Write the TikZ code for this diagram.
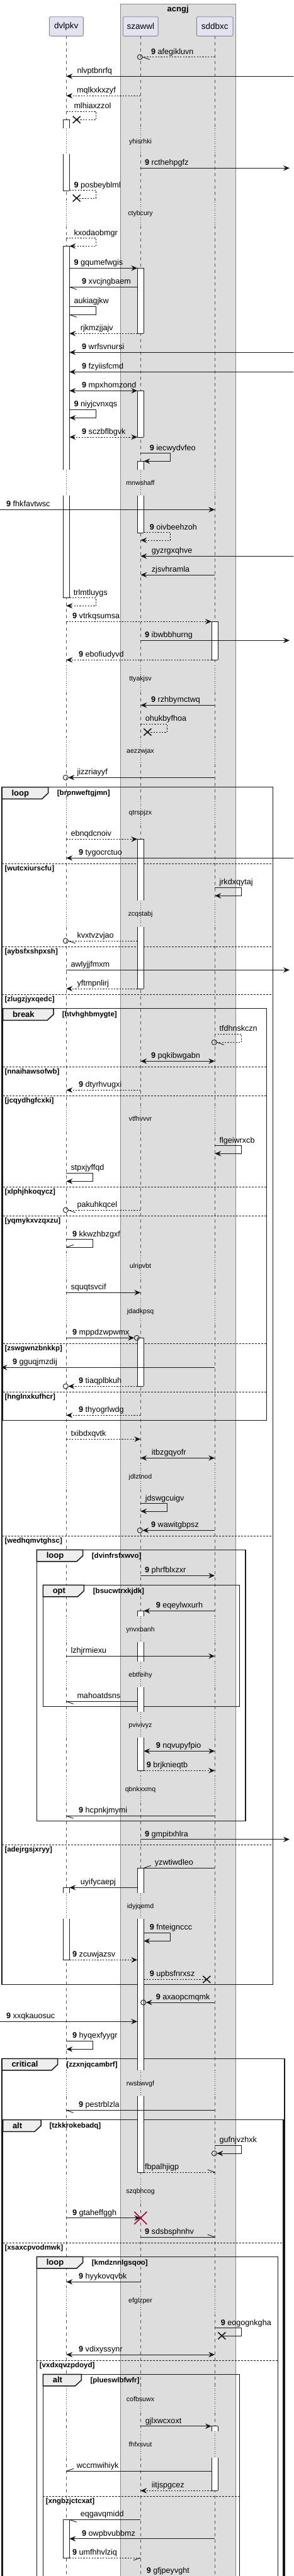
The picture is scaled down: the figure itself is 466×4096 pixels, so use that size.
\documentclass[tikz,border=0pt]{standalone}
\usepackage{fontspec}
\setmainfont{Liberation Sans}
\usetikzlibrary{arrows.meta}
\definecolor{partfill}{HTML}{E2E2F0}
\definecolor{boxgrey}{HTML}{DDDDDD}
\definecolor{bordergrey}{HTML}{888888}
\definecolor{lifegrey}{HTML}{555555}
\definecolor{delayred}{HTML}{A80036}
\definecolor{ink}{HTML}{181818}
\definecolor{tabfill}{HTML}{EEEEEE}
\newcounter{nn}
\newcommand\mlab[3]{\stepcounter{nn}\node[lab] (t\thenn) at (#1,#2) {#3};}
\newcommand\numlab[3]{\stepcounter{nn}\node[lab] (t\thenn) at (#1,#2) {\textbf{9}\ #3};}
\newcommand\dlyL[2]{\stepcounter{nn}\node[dlab] (t\thenn) at (223,#2+3.6) {#1};}
\newcommand\msgL[4][]{\draw[msg,#1] (#2 |- 0,#4) -- (#3 |- 0,#4);}
\newcommand\selfL[6][]{\draw[msg,#1] (#2 |- 0,#4) -- (#3,#4) -- (#3,#5) -- (#6 |- 0,#5);}
\newcommand\barbL[3]{\draw[msg] (#1) -- ++(#2,#3);}
\newcommand\ringL[2]{\draw[msg] (#1,#2) circle[radius=4pt];}
\newcommand\xmkL[2]{\draw[xm] (#1-6,#2-5.5) -- (#1+6,#2+5.5) (#1-6,#2+5.5) -- (#1+6,#2-5.5);}
\newcommand\redxL[2]{\draw[draw=delayred,line width=1.6pt] (#1-10,#2-10) -- (#1+10,#2+10) (#1-10,#2+10) -- (#1+10,#2-10);}
\newcommand\actL[5]{%
  \fill[white] (#1,#2) rectangle (#1+10,#3);
  \draw[actl] (#1,#2) -- (#1,#3) (#1+10,#2) -- (#1+10,#3);
  \ifnum#4=1 \draw[actl] (#1,#2) -- (#1+10,#2);\fi
  \ifnum#5=1 \draw[actl] (#1,#3) -- (#1+10,#3);\fi}
\newcommand\grpL[8]{%
  \draw[frm] (#1,#2) rectangle (#3,#4);
  \draw[tab] (#1,#2) -- (#5,#2) -- (#5,#2+9.3) -- (#5-10,#2+18.6) -- (#1,#2+18.6) -- cycle;
  \stepcounter{nn}\node[ttl] (t\thenn) at (#1+15.3,#2+13.3) {#6};
  \stepcounter{nn}\node[cnd] (t\thenn) at (#8,#2+12.8) {#7};}
\newcommand\sepL[5]{\draw[sep] (#1,#3) -- (#2,#3);
  \stepcounter{nn}\node[cnd] (t\thenn) at (#5,#3+11.5) {#4};}
\begin{document}
\begin{tikzpicture}[x=1pt,y=-1pt,
  lab/.style={font=\fontsize{12.6}{14}\selectfont, inner sep=0pt, anchor=base west},
  dlab/.style={font=\fontsize{10.6}{12}\selectfont, inner sep=0pt, anchor=base},
  cnd/.style={font=\bfseries\fontsize{11.5}{13}\selectfont, inner sep=0pt, anchor=base west},
  ttl/.style={font=\bfseries\fontsize{13}{15}\selectfont, inner sep=0pt, anchor=base west},
  part/.style={draw=bordergrey, fill=partfill, rounded corners=2pt, line width=0.9pt, font=\fontsize{13.5}{15}\selectfont, inner sep=0pt, minimum height=30.6pt},
  msg/.style={draw=ink, line width=0.9pt},
  ret/.style={dash pattern=on 2.2pt off 2.2pt},
  ar/.style={-{Stealth[length=10pt,width=8.5pt,inset=3.5pt]}},
  bar/.style={{Stealth[length=10pt,width=8.5pt,inset=3.5pt]}-{Stealth[length=10pt,width=8.5pt,inset=3.5pt]}},
  life/.style={draw=lifegrey, line width=0.8pt, dash pattern=on 5pt off 5pt},
  dotl/.style={draw=delayred, line width=0.8pt, dash pattern=on 1pt off 2.5pt},
  actl/.style={draw=ink, line width=0.9pt},
  frm/.style={draw=ink, line width=1.5pt},
  tab/.style={draw=ink, line width=1.5pt, fill=tabfill},
  sep/.style={draw=ink, line width=0.9pt, dash pattern=on 3pt off 2pt},
  xm/.style={draw=ink, line width=1.6pt},
]
\useasboundingbox (0,0) rectangle (466,4096);
\fill[white] (0,0) rectangle (466,4096);
% group box
\filldraw[fill=boxgrey, draw=bordergrey, line width=0.9pt] (191.3,6.3) rectangle (374.3,4120);
\node[ttl, anchor=base] (grpttl) at (282.7,18.6) {acngj};
% participants
\node[part, minimum width=54pt] (dvlpkv) at (105.3,42) {dvlpkv};
\node[part, minimum width=55.7pt] (szawwl) at (223.3,42) {szawwl};
\node[part, minimum width=57.7pt] (sddbxc) at (341.2,42) {sddbxc};
\coordinate (A) at (dvlpkv.south);
\coordinate (B) at (szawwl.south);
\coordinate (C) at (sddbxc.south);
\coordinate (Ar) at (110.3,0); \coordinate (Ac) at (108.3,0); \coordinate (Ax) at (121.7,0);
\coordinate (Bl) at (218.3,0); \coordinate (Br) at (228.3,0); \coordinate (Bcl) at (213.3,0);
\coordinate (Bcr) at (226.3,0); \coordinate (Bcrr) at (231.7,0); \coordinate (Bx) at (234.3,0);
\coordinate (Cl) at (336,0); \coordinate (Ccr) at (344.3,0); \coordinate (Cx) at (328.3,0); \coordinate (Cxx) at (352.3,0);
\coordinate (L) at (0,0); \coordinate (Lt) at (1.5,0); \coordinate (R) at (460,0); \coordinate (Re) at (466,0);
% lifelines
\foreach \ya/\yb in {57.3/203.8, 245.4/317.8, 359.4/746.8, 788.4/1058.1, 1099.7/1173.1, 1214.7/1270.8, 1312.4/1432.1, 1473.7/1757.8, 1799.4/1992.1, 2033.7/2064.1, 2105.7/2326.8, 2368.4/2569.8, 2611.4/2641.8, 2683.4/2721.5, 2763.1/2824.1, 2865.7/3009.8, 3051.4/3291.8, 3333.4/3462.8, 3504.4/3637.1, 3678.7/3794.1, 3835.7/3866.1, 3907.7/4110}{
  \foreach \X in {A,B,C}{\draw[life] (\X |- 0,\ya) -- (\X |- 0,\yb);}}
\foreach \ya/\yb in {203.8/245.4, 317.8/359.4, 746.8/788.4, 1058.1/1099.7, 1173.1/1214.7, 1270.8/1312.4, 1432.1/1473.7, 1757.8/1799.4, 1992.1/2033.7, 2064.1/2105.7, 2326.8/2368.4, 2569.8/2611.4, 2641.8/2683.4, 2721.5/2763.1, 2824.1/2865.7, 3009.8/3051.4, 3291.8/3333.4, 3462.8/3504.4, 3637.1/3678.7, 3794.1/3835.7, 3866.1/3907.7}{
  \foreach \X in {A,B,C}{\draw[dotl] (\X |- 0,\ya) -- (\X |- 0,\yb);}}
% delays
\dlyL{yhisrhki}{225} \dlyL{ctybcury}{339} \dlyL{mnwshaff}{768} \dlyL{ttyakjsv}{1079.3}
\dlyL{aezzwjax}{1194.3} \dlyL{qtrspjzx}{1292} \dlyL{zcqstabj}{1453.3} \dlyL{vtfhvvvr}{1779}
\dlyL{ulripvbt}{2013.3} \dlyL{jdadkpsq}{2085.3} \dlyL{jdlztnod}{2348} \dlyL{ynvxbanh}{2591}
\dlyL{ebtfeihy}{2663} \dlyL{pvivivyz}{2742.7} \dlyL{qbnkxxmq}{2845.3} \dlyL{idyjqemd}{3031}
\dlyL{rwsbwvgf}{3313} \dlyL{szqbhcog}{3484} \dlyL{efglzper}{3658.3} \dlyL{cofbsuwx}{3815.3}
\dlyL{fhfxsvut}{3887.3}
% frames
\grpL{3}{1251.7}{433.3}{3155.3}{76.7}{loop}{[brpnweftgjmn]}{90.7}
\sepL{3}{433.3}{1373}{[wutcxiurscfu]}{7.3}
\sepL{3}{433.3}{1505}{[aybsfxshpxsh]}{7.3}
\sepL{3}{433.3}{1581.3}{[zlugzjyxqedc]}{7.3}
\sepL{3}{433.3}{2442.3}{[wedhqmvtghsc]}{7.3}
\sepL{3}{433.3}{2933.3}{[adejrgsjxryy]}{7.3}
\grpL{4.5}{1603.7}{423.3}{2258.7}{85}{break}{[htvhghbmygte]}{98.7}
\sepL{4.5}{423.3}{1696.3}{[nnaihawsofwb]}{7.3}
\sepL{4.5}{423.3}{1742.3}{[jcqydhgfcxki]}{7.3}
\sepL{4.5}{423.3}{1887.3}{[xlphjhkoqycz]}{7.3}
\sepL{4.5}{423.3}{1933.3}{[yqmykxvzqxzu]}{7.3}
\sepL{4.5}{423.3}{2136.3}{[zswgwnzbnkkp]}{7.3}
\sepL{4.5}{423.3}{2213.3}{[hnglnxkufhcr]}{7.3}
\grpL{58.3}{2464.3}{390}{2895.3}{131.7}{loop}{[dvinfrsfxwvo]}{145.7}
\grpL{68.3}{2520.3}{380.7}{2713.3}{133.3}{opt}{[bsucwtrxkjdk]}{147.7}
\grpL{3}{3273.3}{452}{4120}{91.7}{critical}{[zzxnjqcambrf]}{105.3}
\grpL{4.5}{3370.7}{450}{4120}{65}{alt}{[tzkkrokebadq]}{78.3}
\sepL{4.5}{450}{3566}{[xsaxcpvodmwk]}{7.3}
\grpL{58.3}{3588.3}{441.7}{4120}{131.7}{loop}{[kmdznnlgsqoo]}{145.7}
\sepL{58.3}{441.7}{3753.3}{[vxdxqvzpdoyd]}{62.7}
\grpL{68.3}{3775.3}{380.7}{4120}{129.3}{alt}{[plueswlbfwfr]}{143.3}
\sepL{68.3}{380.7}{3969.3}{[xngbzjctcxat]}{72.7}
% activations
\actL{100.3}{190.3}{203.8}{1}{0}
\actL{100.3}{245.4}{303.3}{0}{1}
\actL{100.3}{391.3}{746.8}{1}{0}
\actL{100.3}{788.4}{950.7}{0}{1}
\actL{100.3}{3001.3}{3009.8}{1}{0}
\actL{100.3}{3051.4}{3116.3}{0}{1}
\actL{100.3}{4006.3}{4067}{1}{1}
\actL{218.3}{426.3}{530.3}{1}{1}
\actL{218.3}{621.3}{695}{1}{1}
\actL{218.3}{733.3}{746.8}{1}{0}
\actL{218.3}{788.4}{847.3}{0}{1}
\actL{218.3}{1334.3}{1432.1}{1}{0}
\actL{218.3}{1473.7}{1572}{0}{1}
\actL{218.3}{2127.3}{2204.3}{1}{1}
\actL{218.3}{2561.3}{2569.8}{1}{0}
\actL{218.3}{2611.4}{2641.8}{0}{0}
\actL{218.3}{2683.4}{2721.5}{0}{0}
\actL{218.3}{2763.1}{2815.3}{0}{1}
\actL{218.3}{2970.3}{3009.8}{1}{0}
\actL{218.3}{3051.4}{3291.8}{0}{0}
\actL{218.3}{3333.4}{3454}{0}{1}
\actL{336}{988.3}{1049.3}{1}{1}
\actL{336}{3857.7}{3866.1}{1}{0}
\actL{336}{3907.7}{3960.3}{0}{1}
% messages
\msgL[ret]{C}{Bcr}{90.7}\ringL{222.3}{90.7}\barbL{Bcr |- 0,90.7}{11.4}{4}\numlab{240}{86.2}{afegikluvn}
\msgL[ar]{Re}{A}{121.3}\mlab{122.3}{116.8}{nlvptbnrfq}
\msgL[ret,ar]{B}{A}{152.3}\mlab{122}{147.8}{mqlkxkxzyf}
\selfL[ret]{A}{152.7}{177.3}{190.3}{Ax}\xmkL{121.7}{190.3}\mlab{117.3}{172.8}{mlhiaxzzol}
\msgL[ar]{B}{R}{267.3}\numlab{230}{262.8}{rcthehpgfz}
\selfL[ret]{Ar}{152.7}{302.7}{315}{Ax}\xmkL{121.7}{315}\numlab{117.3}{298.2}{posbeyblml}
\selfL[ret,ar]{A}{152.7}{378.7}{391.3}{Ar}\mlab{117.3}{374.2}{kxodaobmgr}
\msgL[ar]{Ar}{Bl}{426.3}\numlab{117.3}{421.8}{gqumefwgis}
\msgL{Bl}{Ar}{456.3}\barbL{Ar |- 0,456.3}{11.4}{4}\numlab{130}{451.8}{xvcjngbaem}
\selfL{Ar}{152.7}{487.3}{500.3}{Ar}\barbL{Ar |- 0,500.3}{11.4}{4}\mlab{117.3}{482.8}{aukiagjkw}
\msgL[ret,ar]{Bl}{Ar}{530.3}\mlab{127.7}{525.8}{rjkmzjjajv}
\msgL[ar]{Re}{Ar}{560.3}\numlab{130}{555.8}{wrfsvnursi}
\msgL[ar]{Re}{Ar}{591.3}\numlab{130}{586.8}{fzyiisfcmd}
\msgL[bar]{Ar}{Bl}{621.3}\numlab{130}{616.8}{mpxhomzond}
\selfL[ar]{Ar}{152.7}{651.3}{664.3}{Ar}\numlab{117.3}{646.8}{niyjcvnxqs}
\msgL[ret,bar]{Ar}{Bl}{695}\numlab{130}{690.5}{sczbflbgvk}
\selfL[ar]{B}{270.7}{720.7}{733.3}{Br}\numlab{237.7}{716.2}{iecwydvfeo}
\msgL[ar]{L}{C}{810.3}\numlab{10}{805.8}{fhkfavtwsc}
\selfL[ret,ar]{Br}{270.7}{846.7}{859}{B}\numlab{237.7}{842.2}{oivbeehzoh}
\msgL[ar]{Re}{B}{884.3}\mlab{240.7}{879.8}{gyzrgxqhve}
\msgL[ar]{C}{B}{914}\mlab{240.7}{909.5}{zjsvhramla}
\selfL[ret,ar]{Ar}{152.7}{950.7}{963.3}{A}\mlab{116.7}{946.2}{trlmtluygs}
\msgL[ret,ar]{A}{Cl}{988.3}\numlab{115}{983.8}{vtrkqsumsa}
\msgL[ar]{B}{R}{1018.3}\numlab{230}{1013.8}{ibwbbhurng}
\msgL[ret,ar]{Cl}{A}{1049.3}\numlab{125}{1044.8}{ebofiudyvd}
\msgL[ar]{C}{B}{1121.3}\numlab{240}{1116.8}{rzhbymctwq}
\selfL[ret]{B}{265.7}{1151.3}{1164}{Bx}\xmkL{234.3}{1164}\mlab{230.7}{1146.8}{ohukbyfhoa}
\msgL[ar]{C}{Ac}{1236.3}\ringL{104.3}{1236.3}\mlab{122.3}{1231.8}{jizzriayyf}
\msgL[ret,ar]{A}{Bl}{1334.3}\mlab{112.3}{1329.8}{ebnqdcnoiv}
\msgL[ar]{Re}{A}{1364.3}\numlab{125}{1359.8}{tygocrctuo}
\selfL[ar]{C}{383.3}{1411.3}{1424.3}{C}\mlab{348.3}{1406.8}{jrkdxqytaj}
\msgL[ret]{Bl}{Ac}{1496}\ringL{104.3}{1496}\barbL{Ac |- 0,1496}{11.4}{4}\mlab{122.3}{1491.5}{kvxtvzvjao}
\msgL[ar]{A}{R}{1542.3}\mlab{112.3}{1537.8}{awlyjjfmxm}
\msgL[ret,ar]{Bl}{A}{1572}\mlab{122.3}{1567.5}{yftmpnlirj}
\selfL[ret]{C}{383.3}{1644.3}{1657.3}{Ccr}\ringL{340.3}{1657.3}\barbL{Ccr |- 0,1657.3}{11.4}{4}\mlab{348.3}{1639.8}{tfdhnskczn}
\msgL[bar]{B}{C}{1687.3}\numlab{240}{1682.8}{pqkibwgabn}
\msgL[ret,ar]{B}{A}{1733.3}\numlab{125}{1728.8}{dtyrhvugxi}
\selfL[ar]{C}{383.3}{1821.7}{1834.3}{C}\mlab{348.3}{1817.2}{flgeiwrxcb}
\selfL[ar]{A}{147.3}{1865.3}{1878.3}{A}\mlab{112.3}{1860.8}{stpxjyffqd}
\msgL[ret]{B}{Ac}{1924}\ringL{104.3}{1924}\barbL{Ac |- 0,1924}{11.4}{4}\mlab{122.3}{1919.5}{pakuhkqcel}
\selfL{A}{147.3}{1970.7}{1983.3}{A}\barbL{A |- 0,1983.3}{11.4}{-4}\numlab{115}{1966.2}{kkwzhbzgxf}
\msgL[ar]{A}{B}{2055.3}\mlab{112.3}{2050.8}{squqtsvcif}
\msgL[ar]{A}{Bcl}{2127.3}\ringL{217.3}{2127.3}\numlab{115}{2122.8}{mppdzwpwmx}
\msgL[ar]{C}{Lt}{2174.3}\numlab{20}{2169.8}{gguqjmzdij}
\msgL[ret,ar]{Bl}{Ac}{2204.3}\ringL{104.3}{2204.3}\numlab{125}{2199.8}{tiaqplbkuh}
\msgL[ret,ar]{B}{A}{2250.3}\numlab{125}{2245.8}{thyogrlwdg}
\msgL[ret,ar]{A}{B}{2288.3}\mlab{112.3}{2283.8}{txibdxqvtk}
\msgL[bar]{B}{C}{2318.3}\mlab{240.7}{2313.8}{itbzgqyofr}
\selfL[ar]{B}{265.7}{2390.7}{2403}{B}\mlab{230.7}{2386.2}{jdswgcuigv}
\msgL[ar]{C}{Bcr}{2433.3}\ringL{222.3}{2433.3}\numlab{240}{2428.8}{wawitgbpsz}
\msgL[ar]{B}{C}{2505.3}\numlab{230}{2500.8}{phrfblxzxr}
\msgL[ar]{C}{Br}{2561.3}\numlab{247.7}{2556.8}{eqeylwxurh}
\msgL[ar]{A}{C}{2633.3}\mlab{112.3}{2628.8}{lzhjrmiexu}
\msgL{Bl}{A}{2705.3}\barbL{A |- 0,2705.3}{11.4}{4}\mlab{122.3}{2700.8}{mahoatdsns}
\msgL[bar]{Br}{C}{2784.3}\numlab{247.7}{2779.8}{nqvupyfpio}
\msgL[ret,ar]{Br}{C}{2815.3}\numlab{232.7}{2810.8}{brjknieqtb}
\msgL{C}{A}{2887.3}\barbL{A |- 0,2887.3}{11.4}{4}\numlab{125}{2882.8}{hcpnkjmymi}
\msgL[ar]{B}{R}{2924.7}\numlab{230}{2920.2}{gmpitxhlra}
\msgL{C}{Br}{2970.3}\barbL{Br |- 0,2970.3}{11.4}{-4}\mlab{245.7}{2965.8}{yzwtiwdleo}
\msgL[ar]{Bl}{Ar}{3001.3}\mlab{127.7}{2996.8}{uyifycaepj}
\selfL[ar]{Br}{270.7}{3073.3}{3086.3}{Br}\numlab{237.7}{3068.8}{fnteignccc}
\msgL[ret,ar]{Ar}{Bl}{3116.3}\numlab{115}{3111.8}{zcuwjazsv}
\msgL[ret]{Br}{Cx}{3147.3}\xmkL{328.3}{3147.3}\numlab{237.7}{3142.8}{upbsfnrxsz}
\msgL[ar]{C}{Bcrr}{3184}\ringL{227.7}{3184}\numlab{247.7}{3179.5}{axaopcmqmk}
\msgL[ar]{L}{Bl}{3214.3}\numlab{10}{3209.8}{xxqkauosuc}
\selfL[ar]{A}{147.3}{3245.3}{3258.3}{A}\numlab{115}{3240.8}{hyqexfyygr}
\msgL{C}{A}{3355.3}\barbL{A |- 0,3355.3}{11.4}{4}\numlab{125}{3350.8}{pestrblzla}
\selfL[ar]{C}{383.3}{3411.3}{3424}{Ccr}\ringL{340.3}{3424}\mlab{348.3}{3406.8}{gufnjvzhxk}
\msgL[ret]{Br}{C}{3454}\barbL{C |- 0,3454}{-11.4}{-4}\mlab{230}{3449.5}{fbpalhjigp}
\msgL[ar]{A}{B}{3526.7}\redxL{223.3}{3526.7}\numlab{115}{3522.2}{gtaheffggh}
\msgL{B}{C}{3557}\barbL{C |- 0,3557}{-11.4}{-4}\numlab{230}{3552.5}{sdsbsphnhv}
\msgL[ar]{B}{A}{3628.3}\numlab{125}{3623.8}{hyykovqvbk}
\selfL{C}{383.3}{3701.7}{3714}{Cxx}\xmkL{352.3}{3714}\numlab{350.7}{3697.2}{eogognkgha}
\msgL[bar]{A}{C}{3744}\numlab{125}{3739.5}{vdixyssynr}
\msgL[ar]{B}{Cl}{3857.7}\mlab{230.7}{3853.2}{gjlxwcxoxt}
\msgL{Cl}{A}{3929.3}\barbL{A |- 0,3929.3}{11.4}{-4}\mlab{121.7}{3924.8}{wccmwihiyk}
\msgL[ret,ar]{Cl}{B}{3960.3}\mlab{240.7}{3955.8}{iitjspgcez}
\msgL{B}{Ar}{4006.3}\barbL{Ar |- 0,4006.3}{11.4}{4}\mlab{127.7}{4001.8}{eqgavqmidd}
\msgL[ar]{C}{Ar}{4036.7}\numlab{130}{4032.2}{owpbvubbmz}
\msgL[ret]{Ar}{B}{4067}\barbL{B |- 0,4067}{-11.4}{4}\numlab{115}{4062.5}{umfhhvlziq}
\msgL[ar]{B}{R}{4099.5}\numlab{232.7}{4091.5}{gfjpeyvght}
\end{tikzpicture}
\end{document}
